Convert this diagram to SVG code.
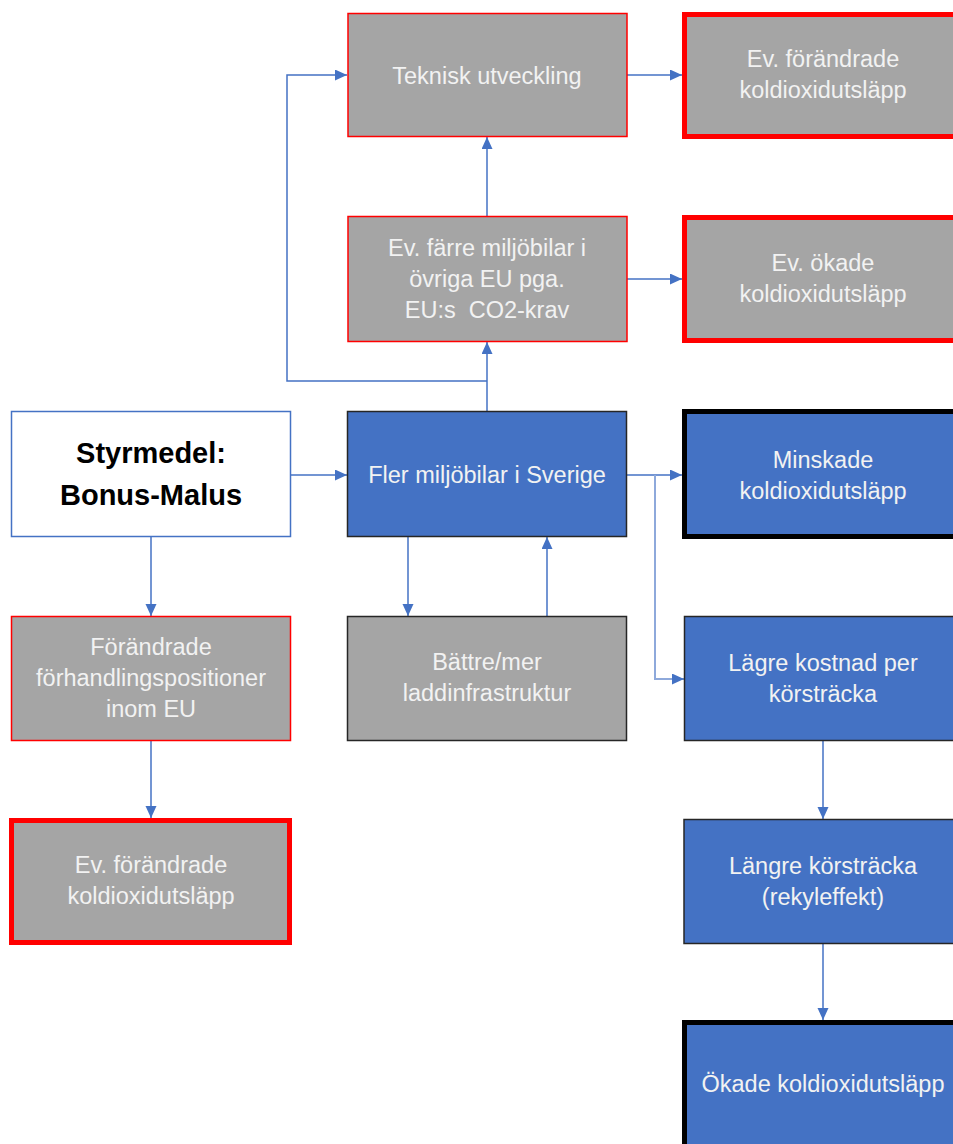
<svg xmlns="http://www.w3.org/2000/svg" width="953" height="1144" viewBox="0 0 953 1144">
<style>
.gray{fill:#A5A5A5}
.blue{fill:#4472C4}
.thinred{stroke:#FF0000;stroke-width:1.5}
.thickred{stroke:#FF0000;stroke-width:5}
.thinblk{stroke:#262626;stroke-width:1.5}
.thickblk{stroke:#000000;stroke-width:5}
.t{font-family:"Liberation Sans",Arial,sans-serif;font-size:23.5px;fill:#F2F2F2;text-anchor:middle}
.b{font-family:"Liberation Sans",Arial,sans-serif;font-size:29px;font-weight:bold;fill:#000;text-anchor:middle}
.c{fill:none;stroke:#4472C4;stroke-width:1.5}
.cl{fill:none;stroke:#8EA9DB;stroke-width:2}
</style>
<defs>
<marker id="ah" markerUnits="userSpaceOnUse" markerWidth="13" markerHeight="12" refX="12" refY="5.5" orient="auto">
<path d="M0,0 L12,5.5 L0,11 z" fill="#4472C4"/>
</marker>
</defs>
<rect width="953" height="1144" fill="#FFFFFF"/>

<g id="connectors">
<path class="c" d="M291,475 L347,475" marker-end="url(#ah)"/>
<path class="c" d="M151,537 L151,616" marker-end="url(#ah)"/>
<path class="c" d="M151,741 L151,818" marker-end="url(#ah)"/>
<path class="c" d="M487,411 L487,342" marker-end="url(#ah)"/>
<path class="c" d="M487,381 L287,381 L287,75 L347,75" marker-end="url(#ah)"/>
<path class="c" d="M487,216 L487,137" marker-end="url(#ah)"/>
<path class="c" d="M627,75 L682,75" marker-end="url(#ah)"/>
<path class="c" d="M627,279 L682,279" marker-end="url(#ah)"/>
<path class="c" d="M627,475 L682,475" marker-end="url(#ah)"/>
<path class="cl" d="M655,475 L655,679 L674,679"/>
<path class="c" d="M672,679 L684,679" marker-end="url(#ah)"/>
<path class="c" d="M408,537 L408,616" marker-end="url(#ah)"/>
<path class="c" d="M547,616 L547,537" marker-end="url(#ah)"/>
<path class="c" d="M823,741 L823,819" marker-end="url(#ah)"/>
<path class="c" d="M823,944 L823,1020" marker-end="url(#ah)"/>
</g>

<g id="styrmedel">
<rect x="11.5" y="411.5" width="279" height="125" fill="#FFFFFF" stroke="#4472C4" stroke-width="1.5"/>
<text class="b" x="151" y="463">Styrmedel:</text>
<text class="b" x="151" y="505">Bonus-Malus</text>
</g>

<g id="forhandling">
<rect x="11.5" y="616.5" width="279" height="124" class="gray thinred"/>
<text class="t" x="151" y="655">Förändrade</text>
<text class="t" x="151" y="686">förhandlingspositioner</text>
<text class="t" x="151" y="717">inom EU</text>
</g>

<g id="evforandrade-left">
<rect x="11.5" y="820.5" width="278" height="122" class="gray thickred"/>
<text class="t" x="151" y="873">Ev. förändrade</text>
<text class="t" x="151" y="904">koldioxidutsläpp</text>
</g>

<g id="teknisk">
<rect x="348" y="13.5" width="279" height="123" class="gray thinred"/>
<text class="t" x="487" y="84">Teknisk utveckling</text>
</g>

<g id="farre">
<rect x="348" y="216.5" width="279" height="125" class="gray thinred"/>
<text class="t" x="487" y="256">Ev. färre miljöbilar i</text>
<text class="t" x="487" y="287">övriga EU pga.</text>
<text class="t" x="487" y="318">EU:s&#160; CO2-krav</text>
</g>

<g id="fler">
<rect x="347.5" y="411.5" width="279" height="125" class="blue thinblk"/>
<text class="t" x="487" y="483">Fler miljöbilar i Sverige</text>
</g>

<g id="battre">
<rect x="347.5" y="616.5" width="279" height="124" class="gray thinblk"/>
<text class="t" x="487" y="670">Bättre/mer</text>
<text class="t" x="487" y="701">laddinfrastruktur</text>
</g>

<g id="evforandrade-right">
<rect x="684.5" y="14.5" width="280" height="122" class="gray thickred"/>
<text class="t" x="823" y="67">Ev. förändrade</text>
<text class="t" x="823" y="98">koldioxidutsläpp</text>
</g>

<g id="evokade">
<rect x="684.5" y="217.5" width="280" height="123" class="gray thickred"/>
<text class="t" x="823" y="271">Ev. ökade</text>
<text class="t" x="823" y="302">koldioxidutsläpp</text>
</g>

<g id="minskade">
<rect x="684.5" y="411.5" width="280" height="125" class="blue thickblk"/>
<text class="t" x="823" y="468">Minskade</text>
<text class="t" x="823" y="499">koldioxidutsläpp</text>
</g>

<g id="lagre">
<rect x="684.5" y="616.5" width="280" height="124" class="blue thinblk"/>
<text class="t" x="823" y="671">Lägre kostnad per</text>
<text class="t" x="823" y="702">körsträcka</text>
</g>

<g id="langre">
<rect x="684" y="819.5" width="280" height="124" class="blue thinblk"/>
<text class="t" x="823" y="874">Längre körsträcka</text>
<text class="t" x="823" y="905">(rekyleffekt)</text>
</g>

<g id="okade">
<rect x="684.5" y="1022.5" width="280" height="126" class="blue thickblk"/>
<text class="t" x="823" y="1092">Ökade koldioxidutsläpp</text>
</g>
</svg>
